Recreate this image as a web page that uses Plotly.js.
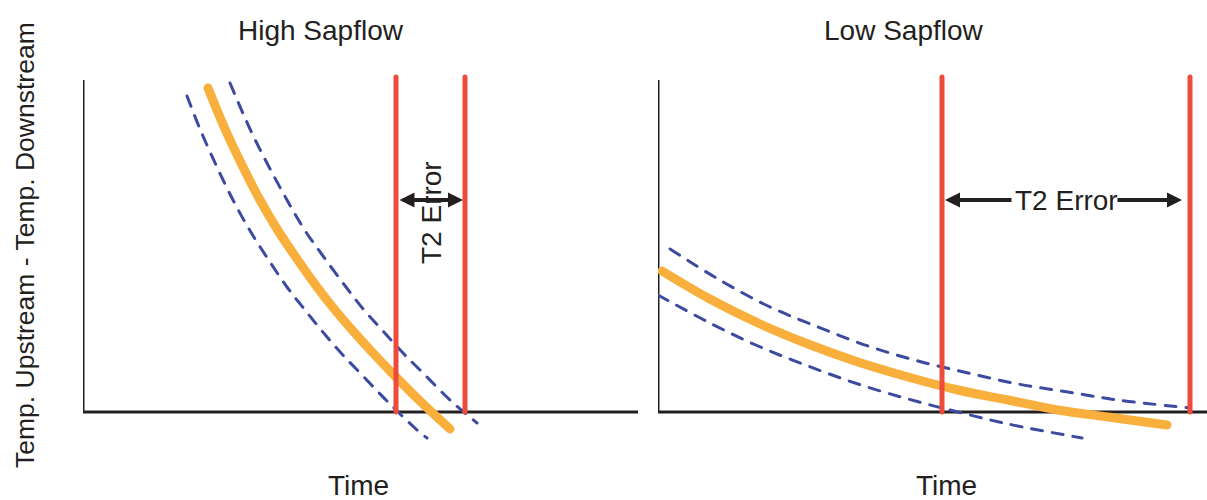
<!DOCTYPE html>
<html>
<head>
<meta charset="utf-8">
<script src="https://cdn.plot.ly/plotly-3.0.1.min.js"></script>
<style>
html,body{margin:0;padding:0;background:#fff;}
#chart{width:1207px;height:500px;}
.js-line{stroke-linecap:round;}
</style>
</head>
<body>
<div id="chart"></div>
<script>
// ---- Data (time units along x, temperature difference along y) ----
const panelTitles = ["High Sapflow", "Low Sapflow"];
const xLabel = "Time";
const yLabel = "Temp. Upstream - Temp. Downstream";
const errLabel = "T2 Error";

// High sapflow panel
const highFitX   = [125,142,159,177,194,212,234,252,270,290,310,337,367];
const highFitY   = [324,283,247,212,183,156,125,102,81,59,38,11,-17];
const highUpperX = [147,167,185,204,221,240,263,281,300,320,341,368,394];
const highUpperY = [329,283,247,212,183,156,125,102,81,59,38,11,-11];
const highLowerX = [104,117,133,150,166,183,204,222,239,258,278,304,333,344];
const highLowerY = [316,283,247,212,183,156,125,102,81,59,38,11,-17,-26];
const highT2     = [313,382];

// Low sapflow panel
const lowFitX   = [4,50,100,150,200,250,300,350,400,450,509];
const lowFitY   = [141,114,89,68,50,35,22,12,2,-5,-13];
const lowUpperX = [12,60,110,160,210,260,310,360,410,460,532];
const lowUpperY = [163,133,106,85,66,51,39,28,20,12,4];
const lowLowerX = [0,50,100,150,200,250,300,350,424];
const lowLowerY = [117,90,66,46,28,13,0,-12,-26];
const lowT2     = [284,532];

const axisTop = 332;      // top of drawn y axis
const t2Top = 335;        // top of T2 markers
const arrowLevel = 212;   // level of error arrows

// ---- Styles ----
const ORANGE = "#F9AF3C", BLUE = "#3C4AA0", RED = "#EE4B3A", INK = "#231F20";
const FONT = "Liberation Sans, Arial, sans-serif";

function dashTrace(x, y, xa) {
  return {x, y, xaxis: xa, yaxis: "y", mode: "lines", hoverinfo: "skip",
    line: {color: BLUE, width: 3, dash: "11px,10px", shape: "spline", smoothing: 1}};
}
function fitTrace(x, y, xa) {
  return {x, y, xaxis: xa, yaxis: "y", mode: "lines", hoverinfo: "skip",
    line: {color: ORANGE, width: 9, shape: "spline", smoothing: 1}};
}
function t2Traces(xs, xa) {
  return xs.map(v => ({x: [v, v], y: [0, t2Top], xaxis: xa, yaxis: "y", mode: "lines",
    hoverinfo: "skip", line: {color: RED, width: 5}}));
}

const traces = [
  dashTrace(highUpperX, highUpperY, "x"),
  dashTrace(highLowerX, highLowerY, "x"),
  fitTrace(highFitX, highFitY, "x"),
  ...t2Traces(highT2, "x"),
  dashTrace(lowUpperX, lowUpperY, "x2"),
  dashTrace(lowLowerX, lowLowerY, "x2"),
  fitTrace(lowFitX, lowFitY, "x2"),
  ...t2Traces(lowT2, "x2")
];

const W = 1207, H = 500;
const hidden = {showgrid: false, zeroline: false, showticklabels: false, ticks: "", showline: false, fixedrange: true};

function axisShapes(xref, xmax) {
  return [
    {type: "line", xref, yref: "y", x0: 0, x1: 0, y0: 0, y1: axisTop, layer: "below", line: {color: INK, width: 3}},
    {type: "line", xref, yref: "y", x0: 0, x1: xmax, y0: 0, y1: 0, layer: "below", line: {color: INK, width: 3}}
  ];
}

const txt = (text, xpx, ypx, size, extra) => Object.assign({
  text, xref: "paper", yref: "paper", x: xpx / W, y: 1 - ypx / H,
  xanchor: "center", yanchor: "middle", showarrow: false,
  font: {family: FONT, size, color: INK}
}, extra || {});

const arrowBase = {text: "", showarrow: true, arrowcolor: INK, arrowwidth: 4, arrowhead: 2,
  arrowsize: 0.75, standoff: 0, startstandoff: 0, yref: "y", ayref: "y"};

const annotations = [
  txt(panelTitles[0], 321, 30, 28),
  txt(panelTitles[1], 904, 30, 28),
  txt(xLabel, 358, 485, 28),
  txt(xLabel, 946, 485, 28),
  txt(yLabel, 25, 245, 26.5, {textangle: -90}),
  // High sapflow error arrow (double headed) + rotated label
  Object.assign({}, arrowBase, {xref: "x", axref: "x",
    x: highT2[1] - 2, y: arrowLevel, ax: highT2[0] + 2, ay: arrowLevel,
    arrowside: "end+start", startarrowhead: 2, startarrowsize: 0.75}),
  {text: errLabel, xref: "x", yref: "y", x: 348, y: 199, showarrow: false, textangle: -90,
    xanchor: "center", yanchor: "middle", font: {family: FONT, size: 28, color: INK}},
  // Low sapflow error arrows split by label
  Object.assign({}, arrowBase, {xref: "x2", axref: "x2",
    x: lowT2[0] + 3, y: arrowLevel, ax: 355, ay: arrowLevel}),
  Object.assign({}, arrowBase, {xref: "x2", axref: "x2",
    x: lowT2[1] - 8, y: arrowLevel, ax: 458, ay: arrowLevel}),
  {text: errLabel, xref: "x2", yref: "y", x: 408, y: arrowLevel, showarrow: false,
    xanchor: "center", yanchor: "middle", font: {family: FONT, size: 28, color: INK}}
];

const layout = {
  width: W, height: H,
  margin: {l: 0, r: 0, t: 0, b: 0, pad: 0},
  paper_bgcolor: "#fff", plot_bgcolor: "rgba(0,0,0,0)",
  showlegend: false,
  xaxis: Object.assign({domain: [83 / W, 638 / W], range: [0, 555], anchor: "y"}, hidden),
  xaxis2: Object.assign({domain: [658 / W, 1], range: [0, 549], anchor: "y"}, hidden),
  yaxis: Object.assign({domain: [0, 1], range: [-88, 412], anchor: "x"}, hidden),
  shapes: [...axisShapes("x", 555), ...axisShapes("x2", 549)],
  annotations
};

Plotly.newPlot("chart", traces, layout, {displayModeBar: false, staticPlot: true});
</script>
</body>
</html>
